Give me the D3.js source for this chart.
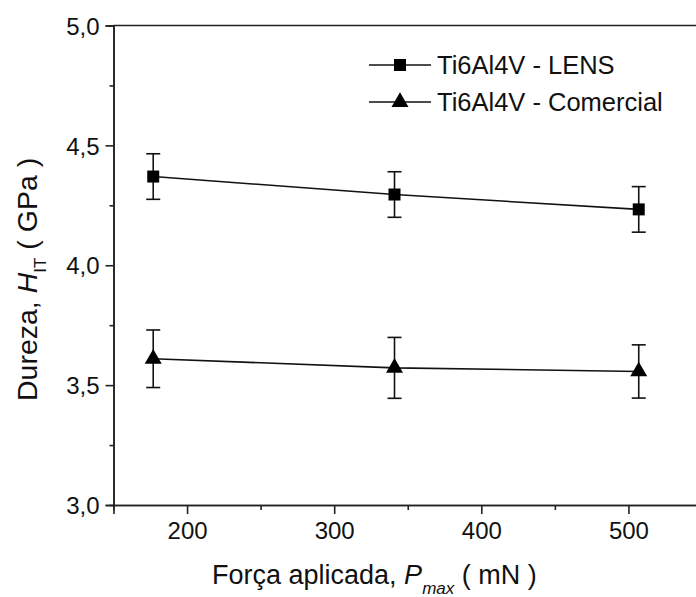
<!DOCTYPE html>
<html><head><meta charset="utf-8">
<script src="https://cdn.jsdelivr.net/npm/d3@7"></script>
<style>html,body{margin:0;padding:0;background:#fff;}svg{display:block;font-family:"Liberation Sans",Arial,sans-serif;}</style>
</head><body>
<script>
const force = [177, 341, 507];
const lens = [4.37, 4.295, 4.233];
const lensErr = [0.095, 0.095, 0.095];
const comercial = [3.61, 3.572, 3.557];
const comercialErr = [0.12, 0.127, 0.111];
const xTicks = [200, 300, 400, 500];
const xMinor = [250, 350, 450];
const yTicks = [3.0, 3.5, 4.0, 4.5, 5.0];
const yMinor = [3.25, 3.75, 4.25, 4.75];
const seriesNames = ["Ti6Al4V - LENS", "Ti6Al4V - Comercial"];

const W = 696, H = 597;
const svg = d3.select("body").append("svg").attr("width", W).attr("height", H);
const x = d3.scaleLinear().domain([150, 550]).range([113.5, 702]);
const y = d3.scaleLinear().domain([3, 5]).range([505, 25.5]);
const fmt = d => d3.format(".1f")(d).replace(".", ",");

// frame
svg.append("line").attr("x1", x(150)).attr("x2", x(550)).attr("y1", y(5)).attr("y2", y(5)).attr("stroke", "#222").attr("stroke-width", 1.6);

const xAxis = svg.append("g").attr("transform", `translate(0,${y(3)})`)
  .call(d3.axisBottom(x).tickValues(xTicks).tickSize(9).tickPadding(8).tickFormat(d3.format("d")));
const xAxisMinor = svg.append("g").attr("transform", `translate(0,${y(3)})`)
  .call(d3.axisBottom(x).tickValues(xMinor).tickSize(5).tickFormat(""));
const yAxis = svg.append("g").attr("transform", `translate(${x(150)},0)`)
  .call(d3.axisLeft(y).tickValues(yTicks).tickSize(8).tickPadding(6).tickFormat(fmt));
const yAxisMinor = svg.append("g").attr("transform", `translate(${x(150)},0)`)
  .call(d3.axisLeft(y).tickValues(yMinor).tickSize(4).tickFormat(""));
[xAxis, xAxisMinor, yAxis, yAxisMinor].forEach(g => {
  g.select(".domain").attr("stroke", "#222").attr("stroke-width", 1.6);
  g.selectAll(".tick line").attr("stroke", "#222").attr("stroke-width", 1.6);
  g.selectAll("text").attr("fill", "#111").style("font-size", "24px").style("font-family", "Liberation Sans, Arial, sans-serif");
});
yAxis.selectAll("text").attr("dy", "0.36em");

// axis titles
const xt = svg.append("text").attr("x", 212).attr("y", 584).attr("fill", "#111").style("font-size", "27px");
xt.append("tspan").text("Força aplicada, ");
xt.append("tspan").style("font-style", "italic").text("P");
xt.append("tspan").style("font-style", "italic").style("font-size", "17px").attr("dy", 10).text("max");
xt.append("tspan").attr("dy", -10).text(" ( mN )");

const yt = svg.append("text").attr("transform", "translate(37,401) rotate(-90)").attr("fill", "#111").style("font-size", "28.5px");
yt.append("tspan").text("Dureza, ");
yt.append("tspan").style("font-style", "italic").text("H");
yt.append("tspan").style("font-size", "17px").attr("dy", 9).text("IT");
yt.append("tspan").attr("dy", -9).text(" ( GPa )");

const series = [
  {name: seriesNames[0], vals: lens, err: lensErr, sym: d3.symbolSquare, size: 144},
  {name: seriesNames[1], vals: comercial, err: comercialErr, sym: d3.symbolTriangle, size: 125}
];
const line = d3.line().x(d => x(d[0])).y(d => y(d[1]));
series.forEach(s => {
  const pts = force.map((f, i) => [f, s.vals[i], s.err[i]]);
  const g = svg.append("g");
  g.append("path").attr("d", line(pts)).attr("fill", "none").attr("stroke", "#111").attr("stroke-width", 1.6);
  pts.forEach(p => {
    g.append("line").attr("x1", x(p[0])).attr("x2", x(p[0])).attr("y1", y(p[1] - p[2])).attr("y2", y(p[1] + p[2])).attr("stroke", "#111").attr("stroke-width", 1.6);
    [p[1] - p[2], p[1] + p[2]].forEach(v => {
      g.append("line").attr("x1", x(p[0]) - 7).attr("x2", x(p[0]) + 7).attr("y1", y(v)).attr("y2", y(v)).attr("stroke", "#111").attr("stroke-width", 1.6);
    });
    g.append("path").attr("d", d3.symbol().type(s.sym).size(s.size)()).attr("transform", `translate(${x(p[0])},${y(p[1])})`).attr("fill", "#000");
  });
});

// legend
const legY = [65, 102];
series.forEach((s, i) => {
  const g = svg.append("g");
  g.append("line").attr("x1", 369).attr("x2", 431).attr("y1", legY[i]).attr("y2", legY[i]).attr("stroke", "#111").attr("stroke-width", 1.6);
  g.append("path").attr("d", d3.symbol().type(s.sym).size(s.size)()).attr("transform", `translate(400,${legY[i]})`).attr("fill", "#000");
  g.append("text").attr("x", 437).attr("y", legY[i]).attr("dy", "0.36em").attr("fill", "#111").style("font-size", "25.5px").text(s.name);
});
</script>
</body></html>
